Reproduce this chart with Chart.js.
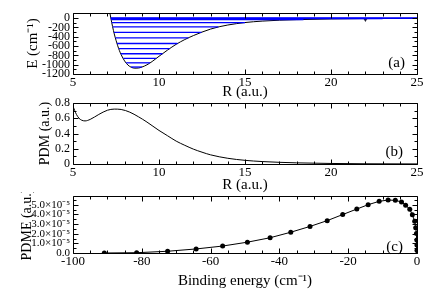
<!DOCTYPE html>
<html>
<head>
<meta charset="utf-8">
<script src="https://cdn.jsdelivr.net/npm/chart.js@4"></script>
<style>
  body { margin: 0; background: #fff; overflow: hidden; }
  .panel { position: absolute; left: 0; width: 436px; }
</style>
</head>
<body>
<div class="panel" style="top:0;height:101px"><canvas id="chart-a"></canvas></div>
<div class="panel" style="top:96px;height:99px"><canvas id="chart-b"></canvas></div>
<div class="panel" style="top:192px;height:101px"><canvas id="chart-c"></canvas></div>
<script>
// (a) potential curve E(R)
const potR = [7.12, 7.2, 7.3, 7.4, 7.5, 7.6, 7.7, 7.8, 8.0, 8.2, 8.4, 8.6, 8.8, 9.0, 9.3, 9.6, 10.0, 10.5, 11.0, 11.5, 12.0, 12.5, 13.0, 13.5, 14.0, 15.0, 16.0, 17.0, 18.0, 20.0, 22.0, 25.0];
const potE = [160, 0, -180, -340, -475, -595, -700, -785, -920, -1010, -1058, -1075, -1072, -1052, -1003, -932, -820, -685, -562, -460, -375, -300, -235, -185, -148, -95, -64, -45, -33, -18, -10, -4];

// (a) vibrational levels: energy and inner / outer turning points
const levelE    = [-1050, -960, -865, -765, -655, -545, -425, -305, -190, -95, -30, -8, -1, 0];
const levelRin  = [8.37, 8.09, 7.92, 7.78, 7.66, 7.56, 7.46, 7.38, 7.31, 7.25, 7.22, 7.2, 7.2, 7.2];
const levelRout = [9.01, 9.48, 9.84, 10.2, 10.62, 11.08, 11.71, 12.47, 13.45, 15.0, 18.4, 23.0, 25, 25];

const markR = [22.0];
const markE = [-35];

const rTicks = [5, 10, 15, 20, 25];
const eTicks = [-1200, -1000, -800, -600, -400, -200, 0];

// (b) permanent dipole moment
const pdmR = [5.0, 5.1, 5.2, 5.35, 5.5, 5.7, 6.0, 6.5, 7.0, 7.4, 7.8, 8.3, 8.8, 9.3, 10.0, 10.5, 11.0, 11.5, 12.0, 12.5, 13.0, 14.0, 15.0, 16.0, 17.0, 18.0, 20.0, 22.0, 25.0];
const pdm  = [0.76, 0.70, 0.65, 0.60, 0.575, 0.565, 0.585, 0.65, 0.705, 0.72, 0.715, 0.68, 0.62, 0.55, 0.44, 0.37, 0.30, 0.245, 0.195, 0.155, 0.12, 0.075, 0.048, 0.032, 0.022, 0.015, 0.007, 0.003, 0.001];
const pdmTicks = [0, 0.2, 0.4, 0.6, 0.8];

// (c) PDME vs binding energy
const bindE = [-90.9, -81.5, -72.5, -64.2, -56.5, -49.3, -42.7, -36.7, -31.1, -26.1, -21.6, -17.5, -14.2, -11.0, -8.4, -6.3, -4.5, -3.3, -2.1, -1.35, -0.67, -0.38, -0.15, -0.06, -0.02, -0.005];
const pdme  = [0.0, 0.03e-5, 0.18e-5, 0.42e-5, 0.72e-5, 1.12e-5, 1.58e-5, 2.15e-5, 2.75e-5, 3.35e-5, 3.98e-5, 4.55e-5, 5.0e-5, 5.35e-5, 5.48e-5, 5.45e-5, 5.28e-5, 4.95e-5, 4.52e-5, 3.95e-5, 3.28e-5, 2.62e-5, 2.02e-5, 1.35e-5, 0.82e-5, 0.25e-5];
const bindTicks = [-100, -80, -60, -40, -20, 0];
const pdmeTicks = [0, 1e-5, 2e-5, 3e-5, 4e-5, 5e-5];

const SERIF = '"Liberation Serif", "Times New Roman", serif';
Chart.defaults.font.family = SERIF;
Chart.defaults.color = '#000';

// frame with inward major/minor ticks on all sides, plus the panel tag
const frame = {
  id: 'frame',
  afterDatasetsDraw(chart, args, o) {
    const {ctx, chartArea: a, scales: {x, y}} = chart;
    const L = Math.round(a.left) + 0.5, R = Math.round(a.right) + 0.5;
    const T = Math.round(a.top) + 0.5, B = Math.round(a.bottom) + 0.5;
    ctx.save();
    ctx.strokeStyle = '#000';
    ctx.lineWidth = 1;
    ctx.beginPath();
    ctx.rect(L, T, R - L, B - T);
    const walk = (min, max, step, major, fn) => {
      const n0 = Math.ceil(min / step - 1e-6), n1 = Math.floor(max / step + 1e-6);
      for (let i = n0; i <= n1; i++) {
        const v = i * step;
        const big = Math.abs(v / major - Math.round(v / major)) < 1e-6;
        fn(v, big ? 5 : 3);
      }
    };
    walk(x.min, x.max, o.xMinor, o.xMajor, (v, len) => {
      const p = Math.round(x.getPixelForValue(v)) + 0.5;
      ctx.moveTo(p, B); ctx.lineTo(p, B - len);
      ctx.moveTo(p, T); ctx.lineTo(p, T + len);
    });
    walk(y.min, y.max, o.yMinor, o.yMajor, (v, len) => {
      const p = Math.round(y.getPixelForValue(v)) + 0.5;
      ctx.moveTo(L, p); ctx.lineTo(L + len, p);
      ctx.moveTo(R, p); ctx.lineTo(R - len, p);
    });
    ctx.stroke();
    ctx.fillStyle = '#000';
    ctx.font = '15px ' + SERIF;
    ctx.textAlign = 'right';
    ctx.textBaseline = 'middle';
    ctx.fillText(o.tag, a.right - o.dx, a.bottom - o.dy);
    ctx.restore();
  }
};

function scales(cfg) {
  return {
    x: {
      type: 'linear', min: cfg.xMin, max: cfg.xMax,
      grid: {display: false, drawTicks: false},
      border: {display: false},
      afterBuildTicks: s => { s.ticks = cfg.xTicks.map(v => ({value: v})); },
      afterFit: s => { s.height = cfg.xH; s.paddingLeft = 0; s.paddingRight = 0; },
      ticks: {font: {size: 13}, padding: cfg.xPad, maxRotation: 0, autoSkip: false},
      title: {display: true, text: cfg.xTitle, font: {size: 15}, padding: {top: 0, bottom: cfg.xTitlePad}}
    },
    y: {
      type: 'linear', min: cfg.yMin, max: cfg.yMax,
      grid: {display: false, drawTicks: false},
      border: {display: false},
      afterBuildTicks: s => { s.ticks = cfg.yTicks.map(v => ({value: v})); },
      afterFit: s => { s.width = 73; s.paddingTop = 0; s.paddingBottom = 0; },
      ticks: {font: {size: cfg.yTickSize || 12}, padding: 3, autoSkip: false, callback: cfg.yFmt || (v => String(v))},
      title: {display: true, text: cfg.yTitle, font: {size: cfg.yTitleSize}, padding: {top: cfg.yTitlePad, bottom: 0}}
    }
  };
}

const common = {
  responsive: true,
  maintainAspectRatio: false,
  animation: false,
  events: [],
  plugins: {legend: {display: false}, tooltip: {enabled: false}}
};

// ---- (a)
new Chart(document.getElementById('chart-a'), {
  type: 'scatter',
  plugins: [frame],
  data: {
    datasets: [
      ...levelE.map((e, i) => ({
        data: [{x: levelRin[i], y: e}, {x: levelRout[i], y: e}],
        showLine: true, borderColor: '#0000ff', borderWidth: 1.3, pointRadius: 0
      })),
      {
        data: potR.map((r, i) => ({x: r, y: potE[i]})),
        showLine: true, borderColor: '#000', borderWidth: 1, pointRadius: 0,
        cubicInterpolationMode: 'monotone'
      },
      {
        data: markR.map((r, i) => ({x: r, y: markE[i]})),
        pointStyle: 'triangle', rotation: 180, pointRadius: 2.2,
        backgroundColor: '#223', borderColor: '#223', borderWidth: 0
      }
    ]
  },
  options: {
    ...common,
    layout: {padding: {top: 13, right: 19, left: 0, bottom: 0}},
    scales: scales({
      xMin: 5, xMax: 25, xTicks: rTicks, xH: 27, xPad: 1, xTitle: 'R (a.u.)', xTitlePad: 0,
      yMin: -1200, yMax: 110, yTicks: eTicks, yTitle: 'E (cm⁻¹)', yTitleSize: 15, yTitlePad: 24
    }),
    plugins: {...common.plugins, frame: {xMinor: 1, xMajor: 5, yMinor: 100, yMajor: 200, tag: '(a)', dx: 12, dy: 11}}
  }
});

// ---- (b)
new Chart(document.getElementById('chart-b'), {
  type: 'scatter',
  plugins: [frame],
  data: {
    datasets: [{
      data: pdmR.map((r, i) => ({x: r, y: pdm[i]})),
      showLine: true, borderColor: '#000', borderWidth: 1, pointRadius: 0,
      cubicInterpolationMode: 'monotone'
    }]
  },
  options: {
    ...common,
    layout: {padding: {top: 7, right: 19, left: 0, bottom: 0}},
    scales: scales({
      xMin: 5, xMax: 25, xTicks: rTicks, xH: 31, xPad: 1, xTitle: 'R (a.u.)', xTitlePad: 1,
      yMin: 0, yMax: 0.8, yTicks: pdmTicks, yTitle: 'PDM (a.u.)', yTitleSize: 14, yTitlePad: 37,
      yFmt: v => v === 0 ? '0' : v.toFixed(1)
    }),
    plugins: {...common.plugins, frame: {xMinor: 1, xMajor: 5, yMinor: 0.1, yMajor: 0.2, tag: '(b)', dx: 14, dy: 12}}
  }
});

// ---- (c)
new Chart(document.getElementById('chart-c'), {
  type: 'scatter',
  plugins: [frame],
  data: {
    datasets: [{
      data: bindE.map((b, i) => ({x: b, y: pdme[i]})),
      showLine: true, borderColor: '#000', borderWidth: 1,
      pointRadius: 2.5, pointBackgroundColor: '#000', pointBorderWidth: 0
    }]
  },
  options: {
    ...common,
    layout: {padding: {top: 3, right: 19, left: 0, bottom: 0}},
    scales: scales({
      xMin: -100, xMax: 0, xTicks: bindTicks, xH: 40, xPad: 1, xTitle: 'Binding energy (cm⁻¹)', xTitlePad: 3,
      yMin: 0, yMax: 5.9e-5, yTicks: pdmeTicks, yTitle: 'PDME (a.u.)', yTitleSize: 14, yTitlePad: 19,
      yTickSize: 11, yFmt: v => v === 0 ? '0.0' : (v * 1e5).toFixed(1) + '×10⁻⁵'
    }),
    plugins: {...common.plugins, frame: {xMinor: 5, xMajor: 20, yMinor: 0.5e-5, yMajor: 1e-5, tag: '(c)', dx: 14, dy: 6}}
  }
});
</script>
</body>
</html>
